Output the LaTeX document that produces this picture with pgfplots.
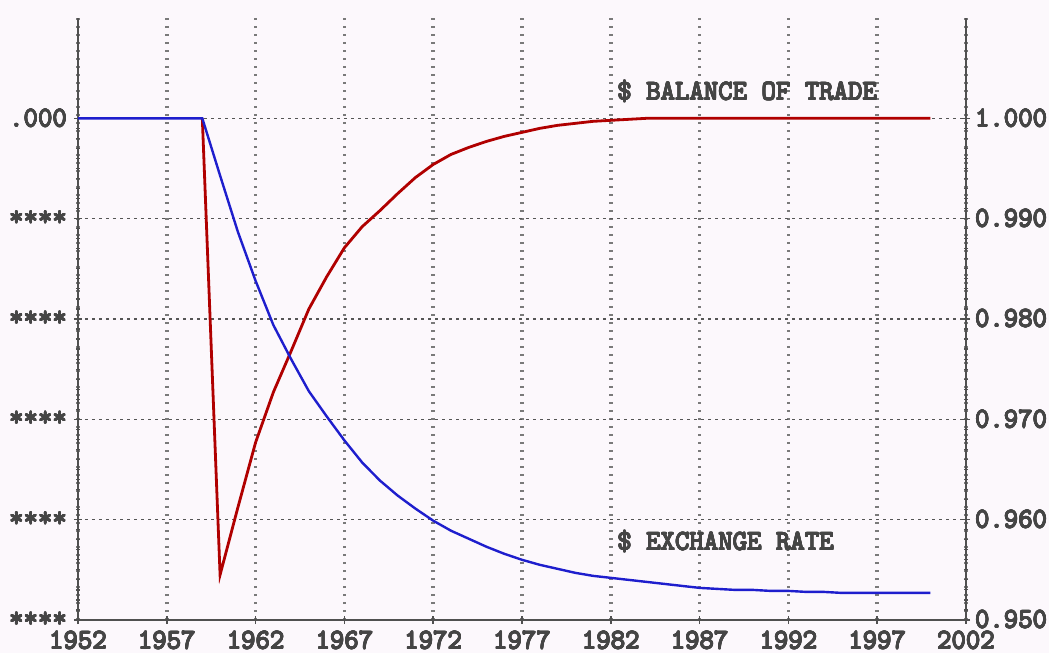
\documentclass[border=0pt]{standalone}
\usepackage{fontspec}
\setmainfont{Latin Modern Mono}
\usepackage{contour}
\contourlength{0.28pt}
\contournumber{12}
\usepackage{pgfplots}
\pgfplotsset{compat=1.18}
\definecolor{bg}{HTML}{FCF8FC}
\definecolor{txt}{HTML}{454545}
\definecolor{redc}{HTML}{B00000}
\definecolor{bluec}{HTML}{1E1ECD}
\definecolor{axc}{HTML}{505050}
\definecolor{gridc}{HTML}{555555}
\definecolor{vgridc}{HTML}{7A7A7A}

\pgfplotstableread{
year val
1959 1.0000
1960 0.9545
1961 0.9612
1962 0.9677
1963 0.9727
1964 0.9768
1965 0.9810
1966 0.9842
1967 0.9871
1968 0.9892
1969 0.9908
1970 0.9925
1971 0.9941
1972 0.9954
1973 0.9964
1974 0.9971
1975 0.9977
1976 0.9982
1977 0.9986
1978 0.9990
1979 0.9993
1980 0.9995
1981 0.9997
1982 0.9998
1983 0.9999
1984 1.0000
1990 1.0000
2000 1.0000
}\balance

\pgfplotstableread{
year val
1952 1.0000
1959 1.0000
1960 0.9943
1961 0.9887
1962 0.9838
1963 0.9794
1964 0.9760
1965 0.9728
1966 0.9703
1967 0.9679
1968 0.9657
1969 0.9639
1970 0.9624
1971 0.9611
1972 0.9599
1973 0.9589
1974 0.9581
1975 0.9573
1976 0.9566
1977 0.9560
1978 0.9555
1979 0.9551
1980 0.9547
1981 0.9544
1982 0.9542
1983 0.9540
1984 0.9538
1985 0.9536
1986 0.9534
1987 0.9532
1988 0.9531
1989 0.9530
1990 0.9530
1991 0.9529
1992 0.9529
1993 0.9528
1994 0.9528
1995 0.9527
2000 0.9527
}\exchange

\newcommand{\lf}{\fontsize{14}{14}\selectfont}
\newcommand{\bt}[1]{\contour{txt}{#1}}
\newcommand{\st}{\raisebox{-0.35ex}{\bt{****}}}

\begin{document}
\begin{tikzpicture}[x=1pt,y=1pt]
\fill[bg] (-39,-16.5) rectangle (485.5,310);
\pgfplotsset{
  common/.style={
    at={(0,0)}, anchor=south west,
    scale only axis, width=444pt, height=301pt,
    xmin=1952, xmax=2002, ymin=0.950, ymax=1.010,
    ytick={0.95,0.96,0.97,0.98,0.99,1.00},
    tick label style={font=\lf, text=txt},
    axis line style={-, axc, line width=1pt},
    major tick style={axc, line width=0.8pt},
    minor tick style={axc, line width=0.6pt},
    major tick length=4pt, minor tick length=2pt,
    clip=false,
  }
}
\begin{axis}[common,
  axis x line*=bottom, axis y line*=left,
  xtick={1952,1957,1962,1967,1972,1977,1982,1987,1992,1997,2002},
  xticklabels={\bt{1952},\bt{1957},\bt{1962},\bt{1967},\bt{1972},\bt{1977},\bt{1982},\bt{1987},\bt{1992},\bt{1997},\bt{2002}},
  yticklabels={\st,\st,\st,\st,\st,\bt{.000}},
  xticklabel style={yshift=-0.2pt},
  minor y tick num=9,
  xmajorgrids, ymajorgrids,
  major x grid style={vgridc, line width=1.8pt, dash pattern=on 0.8pt off 3.2pt},
  major y grid style={gridc, line width=0.6pt, dash pattern=on 1.5pt off 2pt},
  tick align=center,
]
\end{axis}
\begin{axis}[common,
  axis x line=none, axis y line*=right,
  yticklabels={\bt{0.950},\bt{0.960},\bt{0.970},\bt{0.980},\bt{0.990},\bt{1.000}},
  yticklabel style={xshift=-1pt},
  minor y tick num=9,
  tick align=center,
]
\addplot[redc, line width=1.4pt] table[x=year,y=val]{\balance};
\addplot[bluec, line width=1.2pt] table[x=year,y=val]{\exchange};
\node[anchor=base west, inner sep=0, text=txt, font=\lf] at (axis cs:1982.35,1.00185) {\bt{\$ BALANCE OF TRADE}};
\node[anchor=base west, inner sep=0, text=txt, font=\lf] at (axis cs:1982.35,0.95696) {\bt{\$ EXCHANGE RATE}};
\end{axis}
\pgfresetboundingbox
\path[use as bounding box] (-39,-16.5) rectangle (485.5,310);
\end{tikzpicture}
\end{document}
